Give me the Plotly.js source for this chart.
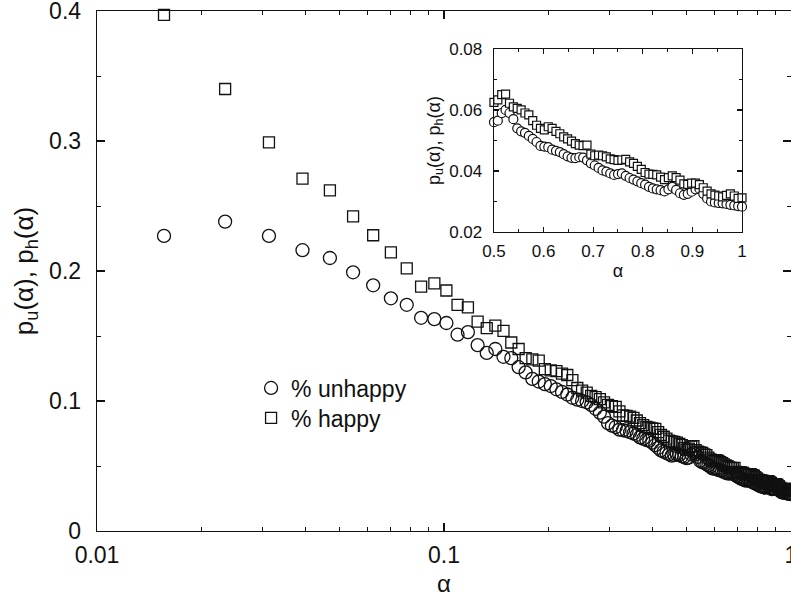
<!DOCTYPE html>
<html>
<head>
<meta charset="utf-8">
<script src="https://cdn.plot.ly/plotly-3.0.1.min.js"></script>
<style>html,body{margin:0;padding:0;background:#fff;}#chart{width:791px;height:598px;}</style>
</head>
<body>
<div id="chart"></div>
<script>
const alpha = [0.0156,0.0234,0.0313,0.0391,0.0469,0.0547,0.0625,0.0703,0.0781,0.0859,
0.0938,0.1016,0.1094,0.1172,0.125,0.1328,0.1406,0.1484,0.1563,0.1641,
0.1719,0.1797,0.1875,0.1953,0.2031,0.2109,0.2188,0.2266,0.2344,0.2422,
0.25,0.2578,0.2656,0.2734,0.2813,0.2891,0.2969,0.3047,0.3125,0.3203,
0.3281,0.3359,0.3438,0.3516,0.3594,0.3672,0.375,0.3828,0.3906,0.3984,
0.4063,0.4141,0.4219,0.4297,0.4375,0.4453,0.4531,0.4609,0.4688,0.4766,
0.4844,0.4922,
0.5,0.5078,0.5156,0.5234,0.5313,0.5391,0.5469,0.5547,0.5625,0.5703,
0.5781,0.5859,0.5938,0.6016,0.6094,0.6172,0.625,0.6328,0.6406,0.6484,
0.6563,0.6641,0.6719,0.6797,0.6875,0.6953,0.7031,0.7109,0.7188,0.7266,
0.7344,0.7422,0.75,0.7578,0.7656,0.7734,0.7813,0.7891,0.7969,0.8047,
0.8125,0.8203,0.8281,0.8359,0.8438,0.8516,0.8594,0.8672,0.875,0.8828,
0.8906,0.8984,0.9063,0.9141,0.9219,0.9297,0.9375,0.9453,0.9531,0.9609,
0.9688,0.9766,0.9844,0.9922,1.0];

const pUnhappy = [0.227,0.238,0.227,0.216,0.210,0.199,0.189,0.179,0.174,0.164,
0.163,0.160,0.151,0.153,0.143,0.137,0.140,0.134,0.133,0.126,
0.122,0.117,0.115,0.113,0.1115,0.109,0.107,0.105,0.1025,0.101,
0.100,0.099,0.097,0.094,0.091,0.088,0.083,0.081,0.080,0.078,
0.0775,0.077,0.076,0.075,0.074,0.072,0.071,0.070,0.0695,0.068,
0.066,0.064,0.062,0.061,0.060,0.059,0.058,0.0585,0.0590,0.0585,
0.0575,0.0570,
0.0560,0.0565,0.0590,0.0600,0.0590,0.0570,0.0540,0.0530,0.0525,0.0515,
0.0505,0.0495,0.0482,0.0480,0.0478,0.0470,0.0466,0.0462,0.0455,0.0448,
0.0443,0.0442,0.0445,0.0444,0.0435,0.0425,0.0418,0.0410,0.0402,0.0398,
0.0392,0.0387,0.0390,0.0392,0.0384,0.0377,0.0372,0.0366,0.0360,0.0355,
0.0348,0.0343,0.0340,0.0337,0.0333,0.0340,0.0348,0.0338,0.0327,0.0322,
0.0325,0.0332,0.0340,0.0342,0.0325,0.0310,0.0300,0.0297,0.0295,0.0294,
0.0292,0.0289,0.0287,0.0285,0.0283];

const pHappy = [0.397,0.340,0.299,0.271,0.262,0.242,0.2275,0.2144,0.202,0.188,
0.1905,0.185,0.174,0.172,0.161,0.156,0.158,0.154,0.145,0.140,
0.133,0.132,0.131,0.1245,0.1235,0.123,0.121,0.120,0.116,0.110,
0.108,0.1065,0.104,0.103,0.1015,0.099,0.097,0.096,0.0955,0.092,
0.089,0.0885,0.088,0.087,0.085,0.083,0.0815,0.080,0.0795,0.079,
0.0785,0.076,0.074,0.0725,0.071,0.0695,0.069,0.0685,0.068,0.067,
0.066,0.064,
0.0625,0.0633,0.0650,0.0652,0.0622,0.0610,0.0605,0.0600,0.0590,0.0584,
0.0565,0.0550,0.0540,0.0535,0.0545,0.0540,0.0530,0.0522,0.0512,0.0505,
0.0498,0.0490,0.0485,0.0483,0.0485,0.0455,0.0450,0.0452,0.0450,0.0446,
0.0440,0.0437,0.0435,0.0436,0.0438,0.0430,0.0425,0.0415,0.0405,0.0395,
0.0390,0.0389,0.0387,0.0380,0.0372,0.0378,0.0384,0.0378,0.0370,0.0358,
0.0356,0.0360,0.0360,0.0355,0.0345,0.0334,0.0325,0.0321,0.0318,0.0315,
0.0320,0.0325,0.0318,0.0310,0.0312];

const seriesNames = ['% unhappy', '% happy'];
const mainXTicks = [0.01, 0.1, 1];
const mainXTickText = ['0.01', '0.1', '1'];
const mainXMinor = [0.02,0.03,0.04,0.05,0.06,0.07,0.08,0.09,0.2,0.3,0.4,0.5,0.6,0.7,0.8,0.9];

const FONT = 'Liberation Sans, Arial, Helvetica, sans-serif';
const INK = '#111';

const start = alpha.indexOf(0.5);
const aIn = alpha.slice(start), uIn = pUnhappy.slice(start), hIn = pHappy.slice(start);

const traces = [
  {x: alpha, y: pUnhappy, name: seriesNames[0], type: 'scatter', mode: 'markers', legend: 'legend',
   marker: {symbol: 'circle-open', size: 13, color: INK, line: {width: 1.3, color: INK}},
   xaxis: 'x', yaxis: 'y', cliponaxis: false},
  {x: alpha, y: pHappy, name: seriesNames[1], type: 'scatter', mode: 'markers', legend: 'legend2',
   marker: {symbol: 'square-open', size: 11, color: INK, line: {width: 1.3, color: INK}},
   xaxis: 'x', yaxis: 'y', cliponaxis: false},
  {x: aIn, y: uIn, name: seriesNames[0], type: 'scatter', mode: 'markers', showlegend: false,
   marker: {symbol: 'circle', size: 9, color: '#fff', line: {width: 1.2, color: INK}},
   xaxis: 'x2', yaxis: 'y2', cliponaxis: false},
  {x: aIn, y: hIn, name: seriesNames[1], type: 'scatter', mode: 'markers', showlegend: false,
   marker: {symbol: 'square', size: 8, color: '#fff', line: {width: 1.2, color: INK}},
   xaxis: 'x2', yaxis: 'y2', cliponaxis: false}
];

const axBase = {showline: true, linecolor: INK, linewidth: 1.3, mirror: 'ticks',
  ticks: 'inside', tickcolor: INK, showgrid: false, zeroline: false, ticklabeloverflow: 'allow'};

const legBase = {xanchor: 'left', yanchor: 'middle', bgcolor: 'rgba(0,0,0,0)',
  font: {size: 23, family: FONT, color: INK}, itemwidth: 30};

const layout = {
  width: 791, height: 598,
  margin: {l: 97, r: 0, t: 11, b: 67},
  paper_bgcolor: '#fff', plot_bgcolor: '#fff',
  font: {family: FONT, color: INK},
  showlegend: true,
  legend: Object.assign({}, legBase, {x: 0.222, y: (531 - 388) / 520}),
  legend2: Object.assign({}, legBase, {x: 0.222, y: (531 - 418) / 520}),
  xaxis: Object.assign({}, axBase, {
    type: 'log', range: [-2, 0], tickmode: 'array', tickvals: mainXTicks, ticktext: mainXTickText,
    ticklen: 8, tickwidth: 1.3, tickfont: {size: 23}, ticklabelstandoff: 3,
    minor: {tickmode: 'array', tickvals: mainXMinor, ticks: 'inside', ticklen: 4, tickwidth: 1, tickcolor: INK},
    title: {text: 'α', font: {size: 24}, standoff: 8}, domain: [0, 1], anchor: 'y'
  }),
  yaxis: Object.assign({}, axBase, {
    range: [0, 0.4], tick0: 0, dtick: 0.1, ticklen: 8, tickwidth: 1.3, tickfont: {size: 23},
    ticklabelstandoff: 10,
    minor: {dtick: 0.05, ticks: 'inside', ticklen: 4, tickwidth: 1, tickcolor: INK},
    title: {text: 'p<sub>u</sub>(α), p<sub>h</sub>(α)', font: {size: 26}, standoff: 8},
    domain: [0, 1], anchor: 'x'
  }),
  xaxis2: Object.assign({}, axBase, {
    range: [0.5, 1], tick0: 0.5, dtick: 0.1, ticklen: 5, tickwidth: 1.2, tickfont: {size: 17},
    ticklabelstandoff: 3,
    minor: {dtick: 0.05, ticks: 'inside', ticklen: 3, tickwidth: 1, tickcolor: INK},
    title: {text: 'α', font: {size: 18}, standoff: 4},
    domain: [0.572, 0.9294], anchor: 'y2'
  }),
  yaxis2: Object.assign({}, axBase, {
    range: [0.02, 0.08], tick0: 0.02, dtick: 0.02, ticklen: 5, tickwidth: 1.2, tickfont: {size: 17},
    ticklabelstandoff: 7,
    minor: {dtick: 0.01, ticks: 'inside', ticklen: 3, tickwidth: 1, tickcolor: INK},
    title: {text: 'p<sub>u</sub>(α), p<sub>h</sub>(α)', font: {size: 18}, standoff: 4},
    domain: [0.575, 0.927], anchor: 'x2'
  })
};

Plotly.newPlot('chart', traces, layout, {displayModeBar: false, staticPlot: true});
</script>
</body>
</html>
